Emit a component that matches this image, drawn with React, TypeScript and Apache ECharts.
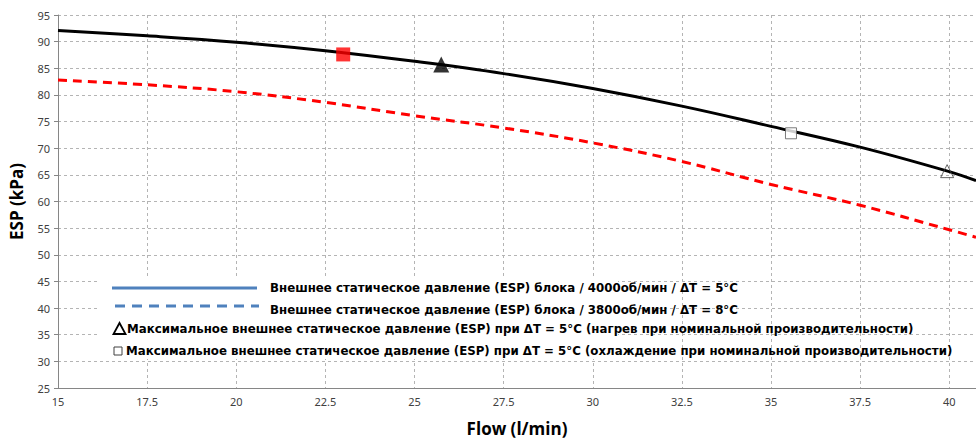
import React, { useEffect, useRef } from "react";
import * as echarts from "echarts";

const flow = [15, 17.5, 20, 22.5, 25, 27.5, 30, 32.5, 35, 37.5, 40, 40.75];
const esp4000 = [92.1, 91.1, 89.9, 88.3, 86.3, 84.0, 81.2, 77.9, 74.1, 70.2, 65.6, 63.9];
const esp3800 = [82.8, 81.9, 80.6, 78.6, 76.1, 73.8, 71.0, 67.5, 63.2, 59.3, 54.7, 53.3];
const pointRedSquare = [23.0, 87.6];
const pointBlackTriangle = [25.75, 85.5];
const pointCoolingNominal = [35.56, 72.8];
const pointHeatingNominal = [39.94, 65.7];

const legendLabels = [
  "Внешнее статическое давление (ESP) блока / 4000об/мин / ΔT = 5°C",
  "Внешнее статическое давление (ESP) блока / 3800об/мин / ΔT = 8°C",
  "Максимальное внешнее статическое давление (ESP) при ΔT = 5°C (нагрев при номинальной производительности)",
  "Максимальное внешнее статическое давление (ESP) при ΔT = 5°C (охлаждение при номинальной производительности)",
];

const xTitle = "Flow (l/min)";
const yTitle = "ESP (kPa)";

export default function App() {
  const ref = useRef<HTMLDivElement>(null);
  useEffect(() => {
    if (!ref.current) return;
    const chart = echarts.init(ref.current, undefined, { renderer: "svg" });
    const lt = {
      fontFamily: "DejaVu Sans",
      fontSize: 11.8,
      fontWeight: "bold" as const,
      fill: "#000",
    };
    chart.setOption({
      animation: false,
      backgroundColor: "#fff",
      grid: { left: 54, top: 15, right: 0, bottom: 49, containLabel: false },
      xAxis: {
        type: "value",
        min: 15,
        max: 40.75,
        interval: 2.5,
        name: xTitle,
        nameLocation: "middle",
        nameGap: 32,
        nameTextStyle: { fontFamily: "Open Sans", fontWeight: "bold", fontSize: 17, color: "#000" },
        axisLine: { show: true, lineStyle: { color: "#868686", width: 1 } },
        axisTick: { show: false },
        axisLabel: {
          showMaxLabel: false,
          fontFamily: "Noto Sans",
          fontSize: 11,
          color: "#404040",
          margin: 8,
        },
        splitLine: { show: true, lineStyle: { color: "#b4b4b4", type: [3, 3], width: 1 } },
      },
      yAxis: {
        type: "value",
        min: 25,
        max: 95,
        interval: 5,
        name: yTitle,
        nameLocation: "middle",
        nameGap: 33,
        nameTextStyle: { fontFamily: "Open Sans", fontWeight: "bold", fontSize: 17, color: "#000" },
        axisLine: { show: true, lineStyle: { color: "#868686", width: 1 } },
        axisTick: { show: true, length: 4, lineStyle: { color: "#868686" } },
        axisLabel: { fontFamily: "Noto Sans", fontSize: 11, color: "#404040", margin: 8 },
        splitLine: { show: true, lineStyle: { color: "#b4b4b4", type: [3, 3], width: 1 } },
      },
      series: [
        {
          name: legendLabels[0],
          type: "line",
          smooth: 0.4,
          showSymbol: false,
          data: flow.map((f, i) => [f, esp4000[i]]),
          lineStyle: { color: "#000", width: 3 },
          z: 3,
        },
        {
          name: legendLabels[1],
          type: "line",
          smooth: 0.4,
          showSymbol: false,
          data: flow.map((f, i) => [f, esp3800[i]]),
          lineStyle: { color: "#ff0000", width: 3, type: [9, 6] },
          z: 3,
        },
        {
          name: "red square",
          type: "scatter",
          symbol: "rect",
          symbolSize: 14,
          data: [pointRedSquare],
          itemStyle: { color: "#ff0000" },
          z: 5,
        },
        {
          name: "black triangle",
          type: "scatter",
          symbol: "triangle",
          symbolSize: 16,
          symbolOffset: [0, -1],
          data: [pointBlackTriangle],
          itemStyle: { color: "#000" },
          z: 5,
        },
        {
          name: legendLabels[3],
          type: "scatter",
          symbol: "rect",
          symbolSize: 11,
          data: [pointCoolingNominal],
          itemStyle: { color: "#fff", borderColor: "#595959", borderWidth: 1 },
          z: 5,
        },
        {
          name: legendLabels[2],
          type: "scatter",
          symbol: "triangle",
          symbolSize: 13,
          data: [pointHeatingNominal],
          itemStyle: { color: "rgba(255,255,255,0)", borderColor: "#404040", borderWidth: 1 },
          z: 5,
        },
      ],
      graphic: [
        {
          type: "rect",
          shape: { x: 98, y: 277, width: 520, height: 82 },
          style: { fill: "#fff" },
          z: 10,
        },
        {
          type: "line",
          shape: { x1: 112, y1: 288, x2: 257, y2: 288 },
          style: { stroke: "#4f81bd", lineWidth: 3 },
          z: 11,
        },
        {
          type: "line",
          shape: { x1: 115, y1: 306, x2: 259, y2: 306 },
          style: { stroke: "#4f81bd", lineWidth: 3, lineDash: [10, 7] },
          z: 11,
        },
        {
          type: "polygon",
          shape: { points: [[119.5, 323], [113.5, 334], [125.5, 334]] },
          style: { fill: "none", stroke: "#000", lineWidth: 1.8 },
          z: 11,
        },
        {
          type: "rect",
          shape: { x: 114, y: 347, width: 8, height: 8 },
          style: { fill: "#fff", stroke: "#404040", lineWidth: 1 },
          z: 11,
        },
        {
          type: "text",
          x: 270,
          y: 288,
          style: { ...lt, text: legendLabels[0], verticalAlign: "middle" },
          z: 11,
        },
        {
          type: "text",
          x: 270,
          y: 310,
          style: { ...lt, text: legendLabels[1], verticalAlign: "middle" },
          z: 11,
        },
        {
          type: "text",
          x: 127,
          y: 329,
          style: { ...lt, text: legendLabels[2], verticalAlign: "middle" },
          z: 11,
        },
        {
          type: "text",
          x: 126,
          y: 351,
          style: { ...lt, text: legendLabels[3], verticalAlign: "middle" },
          z: 11,
        },
      ],
    });
    return () => chart.dispose();
  }, []);
  return (
    <div
      ref={ref}
      style={{ position: "fixed", left: 0, top: 0, width: 976, height: 442 }}
    />
  );
}
